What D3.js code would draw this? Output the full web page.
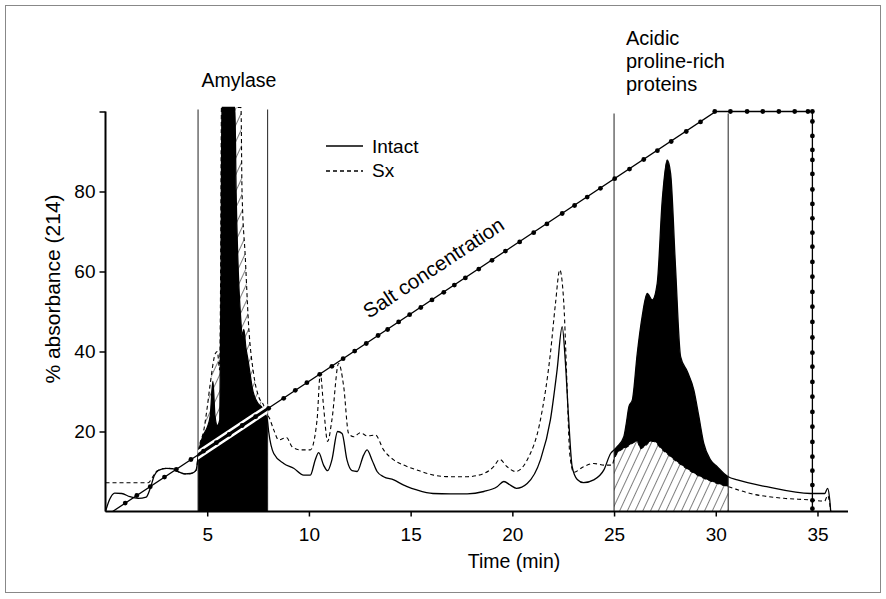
<!DOCTYPE html>
<html><head><meta charset="utf-8">
<script src="https://cdn.jsdelivr.net/npm/d3@7"></script>
<style>body{margin:0;background:#fff}svg{display:block}text{font-family:"Liberation Sans",Arial,sans-serif;fill:#000}</style>
</head><body><svg id="c" width="886" height="599"></svg>
<script>
// ---- data ----
const intact = [[0,0],[0.2,3.0],[0.45,4.6],[0.8,4.5],[1.2,3.7],[1.6,3.3],[2.0,3.6],[2.2,5.8],[2.4,9.0],[2.6,10.3],[3.0,10.8],[3.3,10.7],[3.6,9.9],[3.9,9.4],[4.2,9.5],[4.45,10.3],[4.6,15.5],[4.8,19],[5.0,21],[5.15,24],[5.28,32.5],[5.38,24],[5.5,21.5],[5.62,23],[5.68,60],[5.72,101],[6.36,101],[6.42,80],[6.5,64],[6.65,48],[6.72,44],[6.8,45.5],[6.9,41],[7.0,38],[7.25,30],[7.5,27],[7.7,26],[7.95,23],[8.02,20],[8.27,14.5],[8.76,12],[9.25,10.8],[9.74,9.1],[10.07,9.1],[10.31,12.9],[10.48,14.7],[10.72,11.6],[10.92,10.2],[11.13,12.9],[11.41,20],[11.63,19.5],[11.87,12.9],[12.12,10.2],[12.37,10],[12.69,14.1],[12.86,15.4],[13.1,12.9],[13.35,10],[13.67,8.7],[14.17,7.9],[14.66,6.6],[14.8,6.3],[15.3,5.4],[16.1,4.5],[16.96,4.4],[17.78,4.4],[18.6,5],[19.25,6.2],[19.58,7.5],[19.9,6.6],[20.2,5.8],[20.73,7],[21.38,12.9],[21.87,22.9],[22.2,35.4],[22.45,46.2],[22.6,37.9],[22.77,22.9],[22.94,11.2],[23.19,8.0],[23.5,7.2],[24.0,7.9],[24.5,10.4],[24.83,14.5],[25.0,15.4],[25.15,16.2],[25.48,18.7],[25.6,22],[25.73,26.2],[25.9,27.9],[26.14,39.5],[26.38,48.7],[26.63,54.5],[26.88,52.9],[27.12,57],[27.37,77.9],[27.61,87.9],[27.78,84.5],[28.02,61.2],[28.27,38.7],[28.6,35],[28.92,30.4],[29.17,23.7],[29.41,17],[29.74,12.9],[30.07,11.2],[30.4,9.5],[30.61,8.7],[31.06,7.9],[32.5,6.2],[34.66,4.5],[35.35,4.5],[35.5,5.8],[35.6,3],[35.65,0]];
const sx = [[0,7.2],[2.1,7.2],[2.3,8.5],[2.5,10],[2.6,10.3],[3.0,10.8],[3.3,10.7],[3.6,9.9],[3.9,9.4],[4.2,9.5],[4.45,10.3],[4.6,16],[4.82,20],[5.0,26],[5.15,32],[5.4,39.5],[5.5,40],[5.61,35.4],[5.66,60],[5.7,101],[6.66,101],[6.71,80.4],[6.87,63.7],[7.03,47],[7.28,34.5],[7.53,28.7],[7.77,26.6],[7.95,24.1],[8.02,23.7],[8.27,20.4],[8.51,17.9],[8.76,18.3],[8.9,18.5],[9.17,16.2],[9.58,15.4],[10.07,15.4],[10.4,22.9],[10.56,34.5],[10.72,26.2],[10.92,17.5],[11.13,22.9],[11.46,37],[11.71,31.2],[11.95,19.5],[12.2,18.7],[12.53,19.7],[12.86,18.9],[13.27,19.1],[13.67,15.4],[14.17,12.9],[14.66,11.6],[15.3,10.4],[16.13,9.1],[16.96,8.7],[17.78,8.7],[18.6,9.5],[19.08,11.2],[19.38,13],[19.74,11.2],[20.15,10],[20.73,12.9],[21.38,22.9],[21.87,39.5],[22.12,52],[22.33,60.4],[22.53,52],[22.69,31.2],[22.82,14.5],[23.02,9.8],[23.5,11.2],[24.0,12],[24.5,11.6],[24.9,11.6],[25.0,13],[25.15,14.5],[25.65,16.2],[26.14,17.5],[26.3,15.7],[26.55,16.5],[26.8,17.5],[26.96,17.5],[27.3,15.8],[27.78,13.7],[28.43,11.2],[29.25,8.7],[30.07,7],[30.61,6.2],[31.7,4.5],[33.35,3.3],[34.66,2.9],[35.35,2.6],[35.5,4],[35.6,2],[35.65,0]];
const saltPath = [[0.35,0],[30,100],[34.75,100],[34.75,0]];
const saltDots = [[0.97,2.1],[1.54,4.0],[2.2,6.2],[2.9,8.6],[3.48,10.5],[4.2,13.0],[4.82,15.1],[5.45,17.2],[6.08,19.3],[6.72,21.5],[7.38,23.7],[8.02,25.8],[8.76,28.3],[9.33,30.3],[9.9,32.2],[10.53,34.3],[11.13,36.3],[11.68,38.2],[12.25,40.1],[12.82,42.0],[13.4,44.0],[13.87,45.5],[14.41,47.4],[14.95,49.2],[15.5,51.0],[16.05,52.9],[16.63,54.8],[17.15,56.6],[17.69,58.4],[18.35,60.6],[19.0,62.8],[19.66,65.1],[20.36,67.4],[21.05,69.7],[21.7,71.9],[22.45,74.5],[23.06,76.5],[23.68,78.6],[24.33,80.8],[25.03,83.2],[25.76,85.6],[26.46,88.0],[27.13,90.2],[27.81,92.5],[28.55,95.0],[29.25,97.4],[29.95,100],[30.72,100],[31.54,100],[32.31,100],[33.1,100],[33.88,100],[34.53,100],[34.75,100],[34.75,97.5],[34.75,93.9],[34.75,90.4],[34.75,87.9],[34.75,84.4],[34.75,80.5],[34.75,76.9],[34.75,73.3],[34.75,69.7],[34.75,66.2],[34.75,62.4],[34.75,58.7],[34.75,54.9],[34.75,51.2],[34.75,47.4],[34.75,43.5],[34.75,39.7],[34.75,36.2],[34.75,32.4],[34.75,28.7],[34.75,24.9],[34.75,21.2],[34.75,17.4],[34.75,13.7],[34.75,10.2],[34.75,6.6],[34.75,2.8],[34.75,0.7]];
const amylaseRange = [4.55, 7.97];
const aprpRange = [25, 30.61];
const xTicks = [5,10,15,20,25,30,35];
const yTicks = [20,40,60,80,100];
const yTickLabels = ["20","40","60","80",""];
const seriesNames = ["Intact","Sx"];

// ---- drawing ----
const svg = d3.select("#c");
const x = d3.scaleLinear().domain([0,36.5]).range([105.5,848]);
const y = d3.scaleLinear().domain([0,100]).range([511.5,111.5]);
const defs = svg.append("defs");
defs.append("pattern").attr("id","hatch").attr("patternUnits","userSpaceOnUse")
  .attr("width",7).attr("height",7).attr("patternTransform","rotate(25)")
  .append("line").attr("x1",0).attr("y1",0).attr("x2",0).attr("y2",7)
  .attr("stroke","#000").attr("stroke-width",1);
function clip(id, r){
  defs.append("clipPath").attr("id",id).append("rect")
    .attr("x",x(r[0])).attr("width",x(r[1])-x(r[0])).attr("y",0).attr("height",y(0));
}
clip("clipAmy", amylaseRange); clip("clipAprp", aprpRange);

svg.append("rect").attr("x",5.5).attr("y",5.5).attr("width",875).attr("height",587)
  .attr("fill","none").attr("stroke","#888").attr("stroke-width",1);

const line = d3.line().x(d=>x(d[0])).y(d=>y(d[1])).curve(d3.curveMonotoneX);
const area = d3.area().x(d=>x(d[0])).y0(y(0)).y1(d=>y(d[1])).curve(d3.curveMonotoneX);

// amylase region
svg.append("path").attr("d",area(sx)).attr("fill","url(#hatch)").attr("clip-path","url(#clipAmy)");
svg.append("path").attr("d",area(intact)).attr("fill","#000").attr("clip-path","url(#clipAmy)");
// APRP region
svg.append("path").attr("d",area(intact)).attr("fill","#000").attr("clip-path","url(#clipAprp)");
svg.append("path").attr("d",area(sx)).attr("fill","#fff").attr("clip-path","url(#clipAprp)");
svg.append("path").attr("d",area(sx)).attr("fill","url(#hatch)").attr("clip-path","url(#clipAprp)");

// boundary lines
[[amylaseRange[0],100.5],[amylaseRange[1],100.5],[aprpRange[0],99.5],[aprpRange[1],99.5]].forEach(b=>{
  svg.append("line").attr("x1",x(b[0])).attr("x2",x(b[0])).attr("y1",y(0)).attr("y2",y(b[1]))
    .attr("stroke","#222").attr("stroke-width",1);
});

// curves
svg.append("path").attr("d",line(intact)).attr("fill","none").attr("stroke","#000").attr("stroke-width",1.3);
svg.append("path").attr("d",line(sx)).attr("fill","none").attr("stroke","#000").attr("stroke-width",1.1).attr("stroke-dasharray","4,3");

// salt concentration
const sline = d3.line().x(d=>x(d[0])).y(d=>y(d[1]));
svg.append("path").attr("d",sline(saltPath)).attr("fill","none").attr("stroke","#fff").attr("stroke-width",8).attr("clip-path","url(#clipAmy)");
svg.append("path").attr("d",sline(saltPath)).attr("fill","none").attr("stroke","#000").attr("stroke-width",3).attr("clip-path","url(#clipAmy)");
svg.append("path").attr("d",sline(saltPath)).attr("fill","none").attr("stroke","#000").attr("stroke-width",1.3);
svg.selectAll("circle.salt").data(saltDots).join("circle").attr("class","salt")
  .attr("cx",d=>x(d[0])).attr("cy",d=>y(d[1])).attr("r",2.4).attr("fill","#000");

// axes
const xAxis = d3.axisBottom(x).tickValues(xTicks).tickSize(5).tickPadding(11).tickFormat(d3.format("d"));
const gx = svg.append("g").attr("transform",`translate(0,${y(0)})`).call(xAxis);
gx.select(".domain").remove();
gx.selectAll("line").attr("stroke-width",1.5);
gx.selectAll("text").attr("font-size",19).attr("font-family",'"Liberation Sans",Arial,sans-serif');
svg.append("line").attr("x1",x(0)).attr("x2",x(36.5)).attr("y1",y(0)).attr("y2",y(0)).attr("stroke","#000").attr("stroke-width",2);

const yAxis = d3.axisLeft(y).tickValues(yTicks).tickSize(6).tickPadding(4).tickFormat((d,i)=>yTickLabels[i]);
const gy = svg.append("g").attr("transform",`translate(${x(0)},0)`).call(yAxis);
gy.select(".domain").remove();
gy.selectAll("line").attr("stroke-width",1.5);
gy.selectAll("text").attr("font-size",19).attr("font-family",'"Liberation Sans",Arial,sans-serif');
svg.append("line").attr("x1",x(0)).attr("x2",x(0)).attr("y1",y(0)).attr("y2",y(100)).attr("stroke","#000").attr("stroke-width",2);

// titles
svg.append("text").attr("x",514).attr("y",568).attr("text-anchor","middle").attr("font-size",19.5).text("Time (min)");
svg.append("text").attr("transform","translate(60,289) rotate(-90)").attr("text-anchor","middle").attr("font-size",21).text("% absorbance (214)");
svg.append("text").attr("x",239).attr("y",87).attr("text-anchor","middle").attr("font-size",19.5).text("Amylase");
const ap = svg.append("text").attr("x",626).attr("font-size",20);
["Acidic","proline-rich","proteins"].forEach((s,i)=>ap.append("tspan").attr("x",626).attr("y",45+i*23).text(s));

// salt label
const a0 = x(0.35), b0 = y(0), a1 = x(30), b1 = y(100);
const ang = Math.atan2(b1-b0, a1-a0)*180/Math.PI;
svg.append("text").attr("transform",`translate(369,319) rotate(${ang})`).attr("font-size",20.5).text("Salt concentration");

// legend
const lg = svg.append("g");
seriesNames.forEach((n,i)=>{
  lg.append("line").attr("x1",326).attr("x2",363).attr("y1",146+i*25).attr("y2",146+i*25)
    .attr("stroke","#000").attr("stroke-width",1.3).attr("stroke-dasharray",i?"4,3":null);
  lg.append("text").attr("x",372).attr("y",153+i*24).attr("font-size",19).text(n);
});
</script></body></html>
